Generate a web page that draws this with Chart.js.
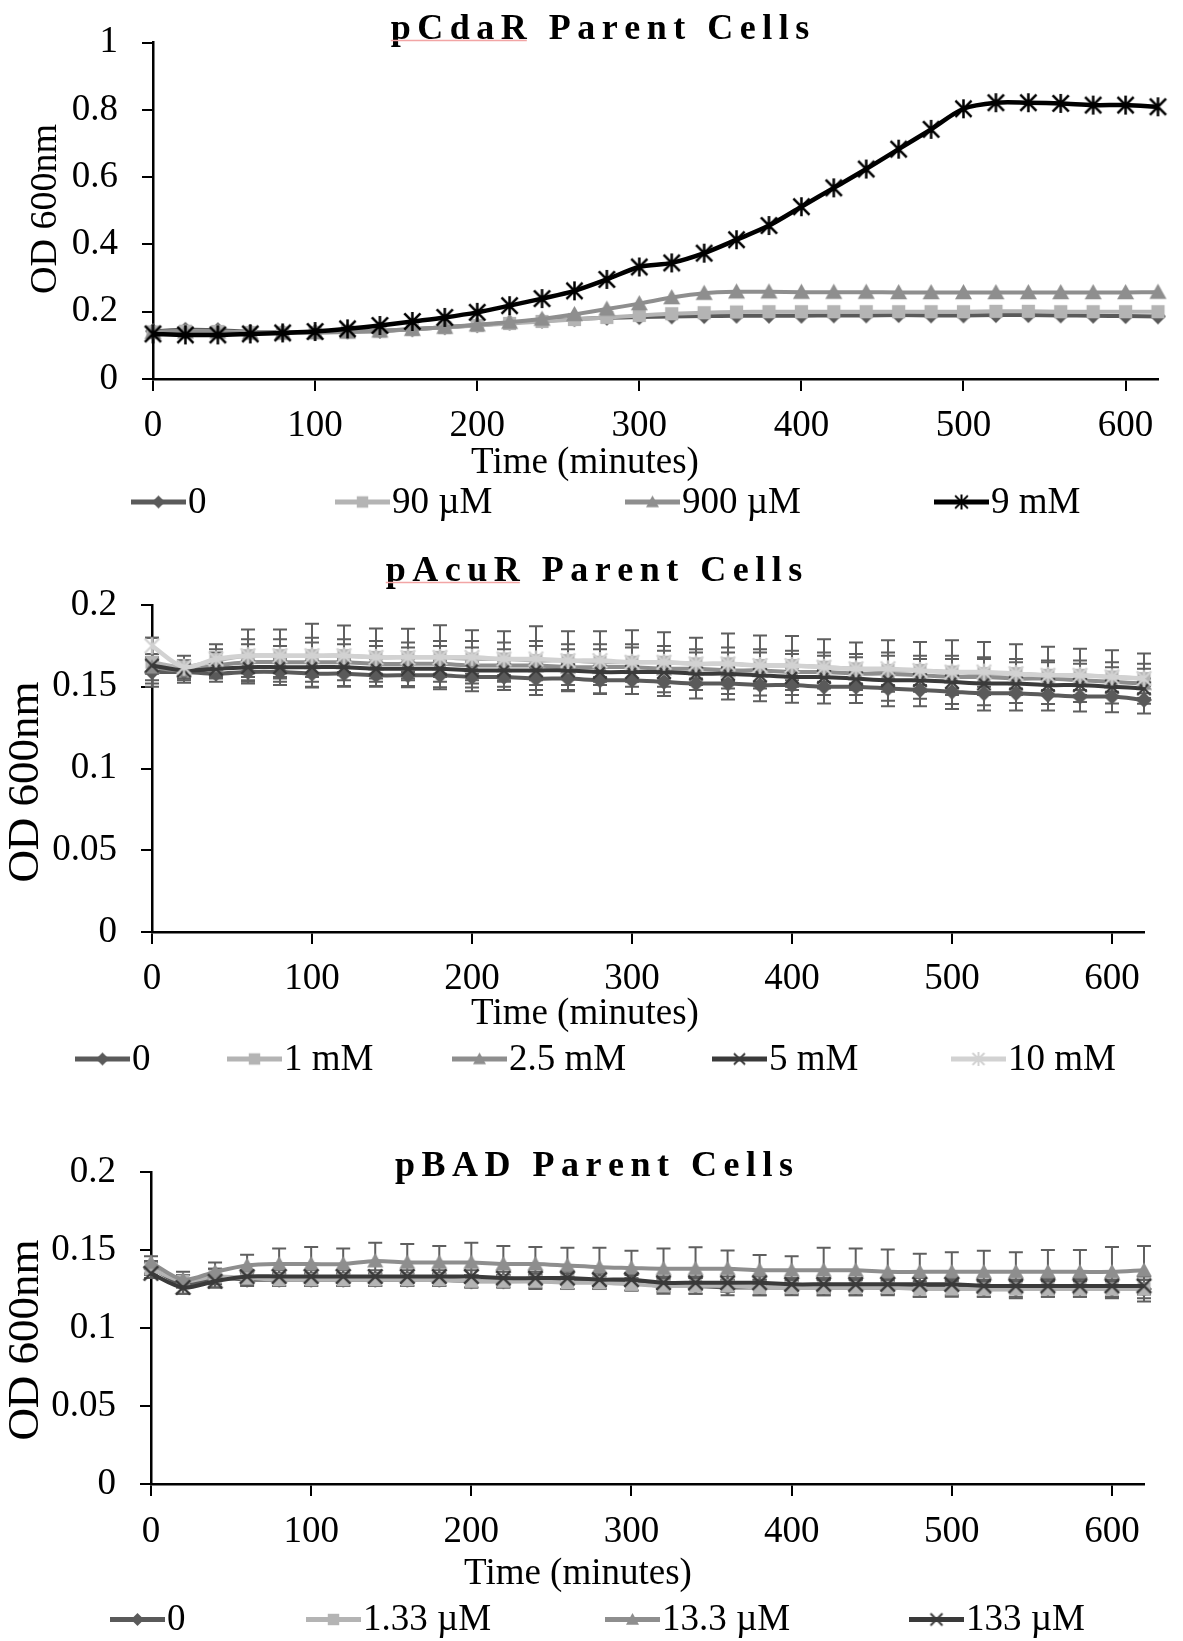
<!DOCTYPE html>
<html><head><meta charset="utf-8">
<script src="https://cdn.jsdelivr.net/npm/chart.js@4.4.1/dist/chart.umd.min.js"></script>
<style>
html,body{margin:0;padding:0;background:#fff}
body{width:1183px;height:1641px;position:relative;overflow:hidden}
canvas{position:absolute;left:0}
</style></head><body>
<canvas id="c1" width="1183" height="540" style="top:0px"></canvas>
<canvas id="c2" width="1183" height="550" style="top:540px"></canvas>
<canvas id="c3" width="1183" height="541" style="top:1100px"></canvas>
<script>
const FONT = "'Liberation Serif','Times New Roman',serif";

// ---------- shared x categories (minutes) ----------
const time = [0,20,40,60,80,100,120,140,160,180,200,220,240,260,280,300,320,340,360,380,400,420,440,460,480,500,520,540,560,580,600,620];
const xTickStep = 100;

// ---------- Chart 1: pCdaR ----------
const cdarTitle = 'pCdaR Parent Cells';
const cdarLabels = ['0', '90 µM', '900 µM', '9 mM'];
const cdar0    = [0.142,0.146,0.145,0.140,0.139,0.139,0.141,0.143,0.148,0.154,0.160,0.167,0.173,0.178,0.182,0.184,0.186,0.187,0.188,0.188,0.188,0.189,0.189,0.190,0.189,0.189,0.190,0.190,0.189,0.188,0.187,0.186];
const cdar90uM = [0.140,0.142,0.141,0.138,0.137,0.138,0.140,0.143,0.148,0.153,0.159,0.165,0.171,0.177,0.183,0.189,0.194,0.197,0.199,0.200,0.200,0.200,0.200,0.200,0.200,0.200,0.201,0.201,0.200,0.200,0.200,0.200];
const cdar900uM= [0.139,0.140,0.140,0.137,0.137,0.138,0.140,0.143,0.148,0.154,0.161,0.169,0.178,0.192,0.208,0.224,0.242,0.255,0.259,0.259,0.258,0.258,0.258,0.257,0.257,0.257,0.257,0.257,0.257,0.257,0.257,0.258];
const cdar9mM  = [0.134,0.131,0.131,0.134,0.137,0.141,0.149,0.159,0.171,0.183,0.198,0.218,0.239,0.262,0.296,0.333,0.345,0.374,0.414,0.456,0.512,0.568,0.624,0.683,0.742,0.803,0.821,0.821,0.819,0.814,0.814,0.809];
const cdarYMax = 1, cdarYStep = 0.2;

// ---------- Chart 2: pAcuR ----------
const acurTitle = 'pAcuR Parent Cells';
const acurLabels = ['0', '1 mM', '2.5 mM', '5 mM', '10 mM'];
const acur0    = [0.159,0.159,0.158,0.159,0.159,0.158,0.158,0.157,0.157,0.157,0.156,0.156,0.155,0.155,0.154,0.154,0.153,0.152,0.152,0.151,0.151,0.150,0.150,0.149,0.148,0.147,0.146,0.146,0.145,0.144,0.144,0.142];
const acur1mM  = [0.165,0.162,0.166,0.169,0.169,0.169,0.169,0.168,0.168,0.168,0.167,0.167,0.166,0.166,0.165,0.165,0.165,0.164,0.164,0.163,0.163,0.162,0.161,0.160,0.160,0.159,0.158,0.158,0.157,0.157,0.156,0.155];
const acur25mM = [0.162,0.160,0.163,0.165,0.165,0.165,0.165,0.164,0.164,0.164,0.163,0.163,0.163,0.162,0.162,0.162,0.161,0.161,0.160,0.160,0.159,0.159,0.158,0.158,0.157,0.156,0.156,0.155,0.155,0.154,0.153,0.152];
const acur5mM  = [0.163,0.160,0.161,0.162,0.162,0.162,0.162,0.161,0.161,0.161,0.160,0.160,0.160,0.160,0.159,0.159,0.159,0.158,0.158,0.157,0.156,0.156,0.155,0.154,0.154,0.153,0.152,0.152,0.151,0.151,0.150,0.149];
const acur10mM = [0.175,0.162,0.167,0.169,0.169,0.169,0.169,0.168,0.168,0.168,0.168,0.167,0.167,0.166,0.166,0.165,0.165,0.164,0.164,0.163,0.163,0.162,0.161,0.161,0.160,0.159,0.159,0.158,0.157,0.157,0.156,0.155];
const acur0Err    = [0.007,0.0065,0.005,0.007,0.008,0.008,0.008,0.007,0.0073,0.0073,0.0088,0.008,0.007,0.0078,0.0085,0.0085,0.0087,0.0092,0.0098,0.0098,0.0108,0.0102,0.010,0.011,0.010,0.0106,0.0106,0.0106,0.0096,0.0092,0.0096,0.0084];
const acur1mMErr  = [0.015,0.007,0.010,0.016,0.016,0.0195,0.0185,0.0176,0.0175,0.0196,0.0175,0.017,0.021,0.018,0.019,0.0195,0.0184,0.016,0.0185,0.0183,0.018,0.017,0.016,0.0185,0.0173,0.0195,0.0193,0.018,0.0175,0.0163,0.0163,0.0154];
const acur25mMErr = [0.008,0.006,0.008,0.011,0.010,0.012,0.011,0.011,0.010,0.011,0.011,0.010,0.012,0.011,0.011,0.012,0.011,0.010,0.011,0.011,0.011,0.010,0.010,0.011,0.010,0.011,0.011,0.010,0.010,0.010,0.009,0.009];
const acur5mMErr  = [0.005,0.005,0.005,0.006,0.006,0.006,0.005,0.006,0.006,0.005,0.006,0.006,0.006,0.005,0.006,0.006,0.006,0.006,0.005,0.006,0.006,0.006,0.006,0.005,0.006,0.006,0.006,0.006,0.006,0.006,0.006,0.006];
const acur10mMErr = [0.005,0.004,0.006,0.010,0.010,0.011,0.010,0.010,0.009,0.010,0.010,0.010,0.011,0.010,0.010,0.011,0.010,0.009,0.010,0.010,0.009,0.009,0.009,0.010,0.009,0.010,0.009,0.009,0.009,0.009,0.009,0.009];
const acurYMax = 0.2, acurYStep = 0.05;

// ---------- Chart 3: pBAD ----------
const badTitle = 'pBAD Parent Cells';
const badLabels = ['0', '1.33 µM', '13.3 µM', '133 µM'];
const bad0      = [0.139,0.128,0.132,0.131,0.131,0.131,0.131,0.131,0.131,0.131,0.130,0.130,0.130,0.130,0.130,0.129,0.127,0.127,0.126,0.126,0.126,0.126,0.126,0.126,0.126,0.126,0.125,0.125,0.126,0.126,0.125,0.125];
const bad133nM  = [0.138,0.130,0.133,0.132,0.131,0.131,0.131,0.131,0.131,0.131,0.130,0.130,0.130,0.129,0.129,0.128,0.127,0.127,0.127,0.126,0.126,0.126,0.126,0.126,0.125,0.125,0.125,0.125,0.125,0.125,0.125,0.125];
const bad13uM   = [0.142,0.131,0.136,0.140,0.141,0.141,0.141,0.143,0.142,0.142,0.142,0.141,0.141,0.140,0.139,0.1385,0.138,0.138,0.138,0.137,0.137,0.137,0.137,0.136,0.136,0.136,0.136,0.136,0.136,0.136,0.136,0.137];
const bad133uM  = [0.135,0.126,0.130,0.133,0.133,0.133,0.133,0.133,0.133,0.133,0.133,0.132,0.132,0.132,0.131,0.131,0.129,0.129,0.129,0.129,0.128,0.128,0.128,0.128,0.128,0.128,0.127,0.127,0.127,0.127,0.127,0.127];
const bad0Err     = [0.004,0.006,0.006,0.004,0.004,0.004,0.004,0.004,0.004,0.004,0.004,0.004,0.005,0.005,0.005,0.005,0.005,0.005,0.005,0.005,0.005,0.005,0.005,0.005,0.006,0.005,0.005,0.006,0.006,0.006,0.006,0.008];
const bad133nMErr = [0.004,0.004,0.005,0.004,0.004,0.004,0.004,0.004,0.004,0.004,0.004,0.004,0.004,0.004,0.004,0.004,0.004,0.005,0.004,0.005,0.004,0.005,0.005,0.004,0.005,0.005,0.005,0.005,0.005,0.005,0.005,0.006];
const bad13uMErr  = [0.004,0.005,0.006,0.007,0.010,0.011,0.010,0.0117,0.0119,0.0106,0.0127,0.0116,0.011,0.0115,0.0125,0.011,0.013,0.0137,0.0116,0.0098,0.009,0.0145,0.014,0.0144,0.0116,0.0125,0.0135,0.0125,0.014,0.014,0.016,0.0156];
const bad133uMErr = [0.003,0.004,0.004,0.004,0.004,0.004,0.004,0.004,0.004,0.004,0.004,0.004,0.004,0.004,0.004,0.004,0.004,0.004,0.004,0.004,0.004,0.004,0.004,0.004,0.004,0.004,0.004,0.004,0.004,0.004,0.004,0.004];
const badYMax = 0.2, badYStep = 0.05;

// ---------- marker images ----------
function marker(shape, color, size) {
  const s = size + 6;
  const c = document.createElement('canvas'); c.width = s; c.height = s;
  const g = c.getContext('2d'); const m = s / 2, r = size / 2;
  g.fillStyle = color; g.strokeStyle = color;
  if (shape === 'diamond') {
    g.beginPath(); g.moveTo(m, m - r); g.lineTo(m + r, m); g.lineTo(m, m + r); g.lineTo(m - r, m); g.closePath(); g.fill();
  } else if (shape === 'square') {
    const h = r * 0.88; g.fillRect(m - h, m - h, 2 * h, 2 * h);
  } else if (shape === 'triangle') {
    g.beginPath(); g.moveTo(m, m - r); g.lineTo(m + r, m + r * 0.8); g.lineTo(m - r, m + r * 0.8); g.closePath(); g.fill();
  } else if (shape === 'x') {
    g.lineWidth = Math.max(2, size / 7); const h = r * 0.85;
    g.beginPath(); g.moveTo(m - h, m - h); g.lineTo(m + h, m + h); g.moveTo(m + h, m - h); g.lineTo(m - h, m + h); g.stroke();
  } else if (shape === 'star') {
    g.lineWidth = Math.max(2, size / 7.5); const h = r * 0.85;
    g.beginPath(); g.moveTo(m - h, m - h); g.lineTo(m + h, m + h); g.moveTo(m + h, m - h); g.lineTo(m - h, m + h);
    g.moveTo(m, m - r); g.lineTo(m, m + r); g.stroke();
  }
  return c;
}

function series(label, values, color, shape, msize, lsize, width, errs) {
  return {
    label, data: values.map((v, i) => ({ x: time[i], y: v })),
    borderColor: color, backgroundColor: color, borderWidth: width,
    pointStyle: marker(shape, color, msize), pointRadius: msize / 2, pointHoverRadius: msize / 2,
    tension: 0.3, clip: false, legendMarker: marker(shape, color, lsize), errs
  };
}

// ---------- plugins ----------
const errorBars = {
  id: 'errorBars',
  beforeDatasetsDraw(chart, args, o) {
    const { ctx } = chart; const y = chart.scales.y;
    ctx.save(); ctx.strokeStyle = o.color || '#5f5f5f'; ctx.lineWidth = o.width || 2;
    chart.data.datasets.forEach((ds, di) => {
      if (!ds.errs) return;
      const meta = chart.getDatasetMeta(di);
      ds.data.forEach((p, i) => {
        const e = ds.errs[i]; if (e == null) return;
        const px = meta.data[i].x;
        const yt = y.getPixelForValue(p.y + e), yb = y.getPixelForValue(p.y - e);
        const cap = o.cap || 7;
        ctx.beginPath();
        ctx.moveTo(px, yt); ctx.lineTo(px, yb);
        ctx.moveTo(px - cap, yt); ctx.lineTo(px + cap, yt);
        ctx.moveTo(px - cap, yb); ctx.lineTo(px + cap, yb);
        ctx.stroke();
      });
    });
    ctx.restore();
  }
};

const annot = {
  id: 'annot',
  afterDraw(chart, args, o) {
    const ctx = chart.ctx;
    ctx.save();
    // chart title (bold, expanded spacing)
    ctx.font = `bold ${o.titleSize}px ${FONT}`;
    ctx.fillStyle = '#000'; ctx.textBaseline = 'alphabetic'; ctx.textAlign = 'left';
    const sp = o.titleSpacing;
    let w = 0; for (const ch of o.title) w += ctx.measureText(ch).width + sp; w -= sp;
    let x = o.titleX - w / 2;
    const x0 = x;
    let firstWordEnd = null;
    for (const ch of o.title) {
      if (ch === ' ' && firstWordEnd === null) firstWordEnd = x - sp;
      ctx.fillText(ch, x, o.titleY); x += ctx.measureText(ch).width + sp;
    }
    if (o.underline) {
      ctx.strokeStyle = '#f2a5a5'; ctx.lineWidth = 1.5;
      ctx.beginPath(); ctx.moveTo(x0, o.titleY + 2); ctx.lineTo(firstWordEnd, o.titleY + 2); ctx.stroke();
    }
    // axis titles
    ctx.font = `${o.axisSize}px ${FONT}`; ctx.textAlign = 'center'; ctx.textBaseline = 'middle';
    ctx.fillText(o.xTitle, o.xTitleX, o.xTitleY);
    ctx.save(); ctx.translate(o.yTitleX, o.yTitleY); ctx.rotate(-Math.PI / 2);
    ctx.font = `${o.yAxisSize}px ${FONT}`;
    ctx.fillText(o.yTitle, 0, 0); ctx.restore();
    // legend
    ctx.font = `${o.legendSize}px ${FONT}`; ctx.textAlign = 'left'; ctx.textBaseline = 'middle';
    o.legendX.forEach((lx, i) => {
      const ds = chart.data.datasets[i];
      ctx.strokeStyle = ds.borderColor; ctx.lineWidth = 5;
      ctx.beginPath(); ctx.moveTo(lx, o.legendY); ctx.lineTo(lx + 55, o.legendY); ctx.stroke();
      const mk = ds.legendMarker;
      ctx.drawImage(mk, lx + 27.5 - mk.width / 2, o.legendY - mk.height / 2);
      ctx.fillStyle = '#000';
      ctx.fillText(ds.label, lx + 57, o.legendY + 1);
    });
    ctx.restore();
  }
};

const fmt = (v) => String(parseFloat(Number(v).toFixed(3)));

function axes(yMax, yStep, yWidth, xHeight, xPad) {
  const tickFont = { family: FONT, size: 37, lineHeight: 1 };
  return {
    x: {
      type: 'linear', min: 0, max: 620,
      border: { color: '#000', width: 2.5 },
      grid: { display: true, drawOnChartArea: false, drawTicks: true, tickLength: 12, color: '#000', lineWidth: 2 },
      ticks: { stepSize: xTickStep, includeBounds: false, color: '#000', font: tickFont, padding: xPad, maxRotation: 0, autoSkip: false, callback: fmt },
      afterFit(s) { s.height = xHeight; }
    },
    y: {
      type: 'linear', min: 0, max: yMax,
      border: { color: '#000', width: 2.5 },
      grid: { display: true, drawOnChartArea: false, drawTicks: true, tickLength: 11, color: '#000', lineWidth: 2 },
      ticks: { stepSize: yStep, color: '#000', font: tickFont, padding: 24, callback: fmt },
      afterFit(s) { s.width = yWidth; }
    }
  };
}

function build(id, datasets, sc, pad, ann) {
  datasets.forEach((d, i) => { d.order = datasets.length - 1 - i; });
  return new Chart(document.getElementById(id), {
    type: 'line',
    data: { datasets },
    options: {
      responsive: false, animation: false, devicePixelRatio: 1,
      layout: { padding: pad },
      scales: sc,
      plugins: { legend: { display: false }, title: { display: false }, tooltip: { enabled: false },
        annot: ann, errorBars: { color: '#5f5f5f', width: 2, cap: 7 } },
      events: []
    },
    plugins: [errorBars, annot]
  });
}

const C0 = '#5a5a5a', CL = '#b4b4b4', CM = '#8e8e8e', CD = '#3a3a3a', CVL = '#d2d2d2';

// Chart 1
build('c1', [
  series(cdarLabels[0], cdar0, C0, 'diamond', 16, 13, 4),
  series(cdarLabels[1], cdar90uM, CL, 'square', 15, 13, 4),
  series(cdarLabels[2], cdar900uM, CM, 'triangle', 17, 13, 4),
  series(cdarLabels[3], cdar9mM, '#000', 'star', 19, 15, 4.5)
], axes(cdarYMax, cdarYStep, 153, 100, 17), { left: 0, right: 25, top: 39, bottom: 61 }, {
  title: cdarTitle, titleX: 600, titleY: 38.5, titleSize: 36, titleSpacing: 6.5, underline: true,
  xTitle: 'Time (minutes)', xTitleX: 585, xTitleY: 463, axisSize: 37,
  yTitle: 'OD 600nm', yTitleX: 46, yTitleY: 209, yAxisSize: 38,
  legendX: [131, 335, 625, 934], legendY: 502, legendSize: 37
});

// Chart 2
build('c2', [
  series(acurLabels[0], acur0, C0, 'diamond', 16, 13, 4, acur0Err),
  series(acurLabels[1], acur1mM, CL, 'square', 15, 13, 4, acur1mMErr),
  series(acurLabels[2], acur25mM, CM, 'triangle', 16, 13, 4, acur25mMErr),
  series(acurLabels[3], acur5mM, CD, 'x', 16, 13, 4, acur5mMErr),
  series(acurLabels[4], acur10mM, CVL, 'star', 17, 14, 4.5, acur10mMErr)
], axes(acurYMax, acurYStep, 152, 100, 17), { left: 0, right: 39, top: 65, bottom: 58 }, {
  title: acurTitle, titleX: 594, titleY: 580.5 - 540, titleSize: 36, titleSpacing: 6.5, underline: true,
  xTitle: 'Time (minutes)', xTitleX: 585, xTitleY: 1014 - 540, axisSize: 37,
  yTitle: 'OD 600nm', yTitleX: 26, yTitleY: 782 - 540, yAxisSize: 45,
  legendX: [75, 227, 452, 712, 951], legendY: 1059 - 540, legendSize: 37
});

// Chart 3
build('c3', [
  series(badLabels[0], bad0, C0, 'diamond', 16, 13, 4, bad0Err),
  series(badLabels[1], bad133nM, CL, 'square', 15, 13, 4, bad133nMErr),
  series(badLabels[2], bad13uM, CM, 'triangle', 16, 13, 4, bad13uMErr),
  series(badLabels[3], bad133uM, CD, 'x', 17, 14, 4, bad133uMErr)
], axes(badYMax, badYStep, 151, 100, 18), { left: 0, right: 39, top: 72, bottom: 57 }, {
  title: badTitle, titleX: 594, titleY: 1176 - 1100, titleSize: 36, titleSpacing: 6.5, underline: false,
  xTitle: 'Time (minutes)', xTitleX: 578, xTitleY: 1574.5 - 1100, axisSize: 37,
  yTitle: 'OD 600nm', yTitleX: 26, yTitleY: 1340 - 1100, yAxisSize: 45,
  legendX: [110, 306, 605, 909], legendY: 1619.5 - 1100, legendSize: 37
});
</script>
</body></html>
